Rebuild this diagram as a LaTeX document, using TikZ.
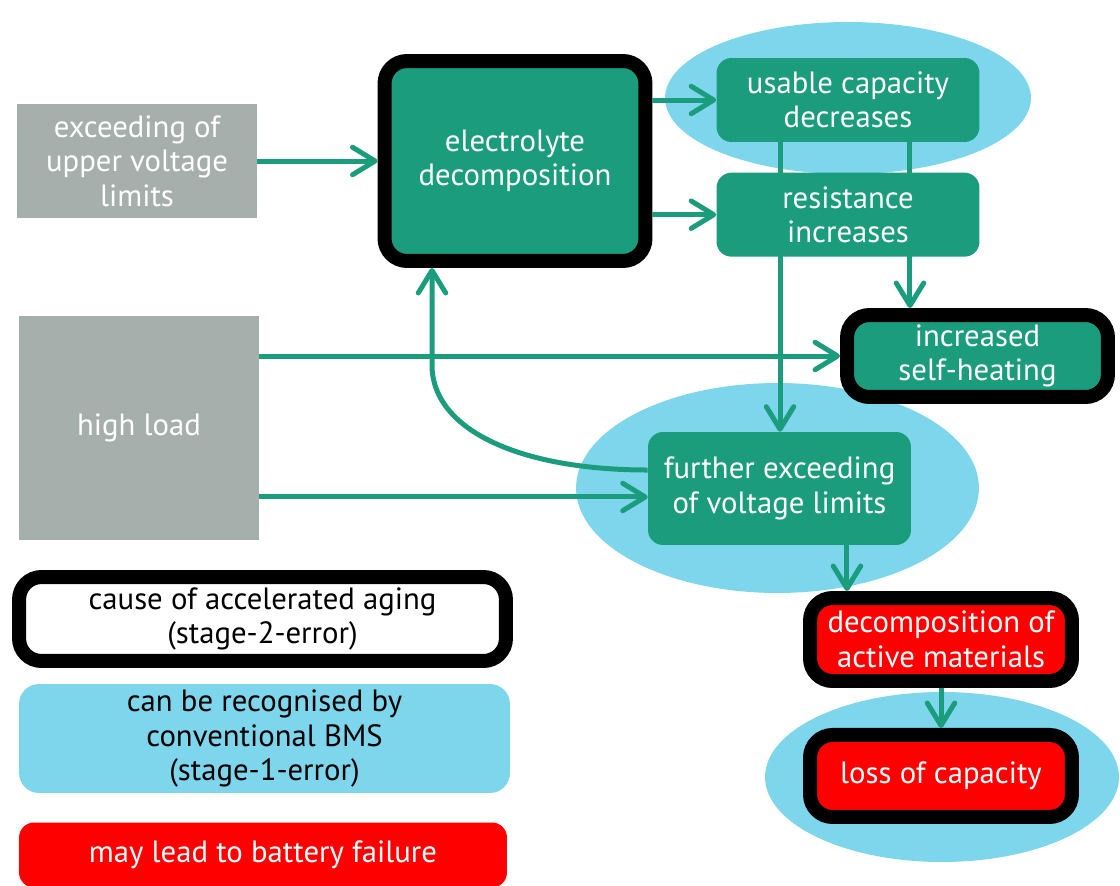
\documentclass[tikz,border=0pt]{standalone}
\usepackage{fontspec}
\setmainfont{PT Sans}
\usetikzlibrary{positioning,arrows.meta,backgrounds}
\definecolor{agegreen}{RGB}{26,156,125}
\definecolor{bmsblue}{RGB}{125,214,236}
\definecolor{causegray}{RGB}{167,175,173}
\definecolor{failred}{RGB}{255,0,0}

\begin{document}
\begin{tikzpicture}[
  x=0.02cm, y=-0.02cm,
  font=\fontsize{17.5}{19.6}\selectfont,
  box/.style={align=center, inner sep=2pt, text=white},
  cause/.style={box, fill=causegray, minimum width=4.8cm},
  effect/.style={box, fill=agegreen, rounded corners=0.3cm, minimum width=5.26cm},
  stage2/.style={box, draw=black, line width=0.28cm, rounded corners=0.45cm,
                 minimum width=5.22cm},
  zone/.style={fill=bmsblue},
  arr/.style={-{Straight Barb[length=0.45cm, width=0.55cm, round]},
              line width=0.1cm, agegreen}
]
\useasboundingbox (0,0) rectangle (1120,886);

\node[cause, minimum height=2.28cm] (upper) at (137,161) {exceeding of\\upper voltage\\limits};
\node[cause, minimum height=4.48cm] (load)  at (139,428) {high load};
%% thick black frame = stage-2-error
\node[stage2, fill=agegreen, minimum height=4.0cm] (elyt) at (515,161) {electrolyte\\decomposition};
\node[effect, minimum height=1.68cm] (ucap) at (848,100) {usable capacity\\decreases};
\node[effect, minimum height=1.68cm, below=0.6cm of ucap] (res) {resistance\\increases};
\node[stage2, fill=agegreen, minimum height=1.64cm] (heat) at (977.5,356) {increased\\self-heating};
\node[effect, minimum height=2.26cm] (further) at (779.5,488.5) {further exceeding\\of voltage limits};
\node[stage2, fill=failred, minimum width=5.24cm, minimum height=1.66cm] (dec) at (941,639.5)
     {decomposition of\\active materials};
\node[stage2, fill=failred, minimum width=5.24cm, minimum height=1.64cm, below=0.8cm of dec] (loss)
     {loss of capacity};

%% legend
\node[stage2, fill=white, text=black, minimum width=9.74cm, minimum height=1.68cm] (leg2err)
     at (262.5,619) {cause of accelerated aging\\(stage-2-error)};
\node[box, fill=bmsblue, text=black, rounded corners=0.4cm, minimum width=9.82cm,
      minimum height=2.18cm] (leg1err) at (264.5,738.5) {can be recognised by\\conventional BMS\\(stage-1-error)};
\node[box, fill=failred, rounded corners=0.3cm, minimum width=9.76cm, minimum height=1.3cm] (legfail)
     at (263,855) {may lead to battery failure};

\coordinate (bend) at (432,365);

\draw[arr] (upper) -- (elyt);
\draw[arr] (elyt.east |- ucap) -- (ucap);
\draw[arr] (elyt.east |- res) -- (res);
\draw[arr] (load.east |- heat) -- (heat);
\draw[arr] ([yshift=-1.38cm]load.east) -- ([yshift=-1.38cm]load.east -| further.west);
\draw[arr] ([yshift=0.37cm]further.west) .. controls (520,470) and (432,430) .. (bend)
           -- (bend |- elyt.south);
\draw[arr] ([xshift=1.35cm]further.south) -- ([xshift=1.35cm]further.south |- dec.north);
\draw[arr] (dec) -- (loss);

\begin{pgfonlayer}{background}
  \fill[zone] (848,98) ellipse [x radius=3.66cm, y radius=1.52cm];
  \fill[zone] (777.5,488) ellipse [x radius=4.03cm, y radius=2.1cm];
  \fill[zone] (942,777) ellipse [x radius=3.54cm, y radius=1.7cm];
  \draw[arr] ([xshift=-1.36cm]ucap.south) -- ([xshift=-1.36cm]ucap.south |- further.north);
  \draw[arr] ([xshift=1.24cm]ucap.south) -- ([xshift=1.24cm]ucap.south |- heat.north);
\end{pgfonlayer}
\end{tikzpicture}
\end{document}
